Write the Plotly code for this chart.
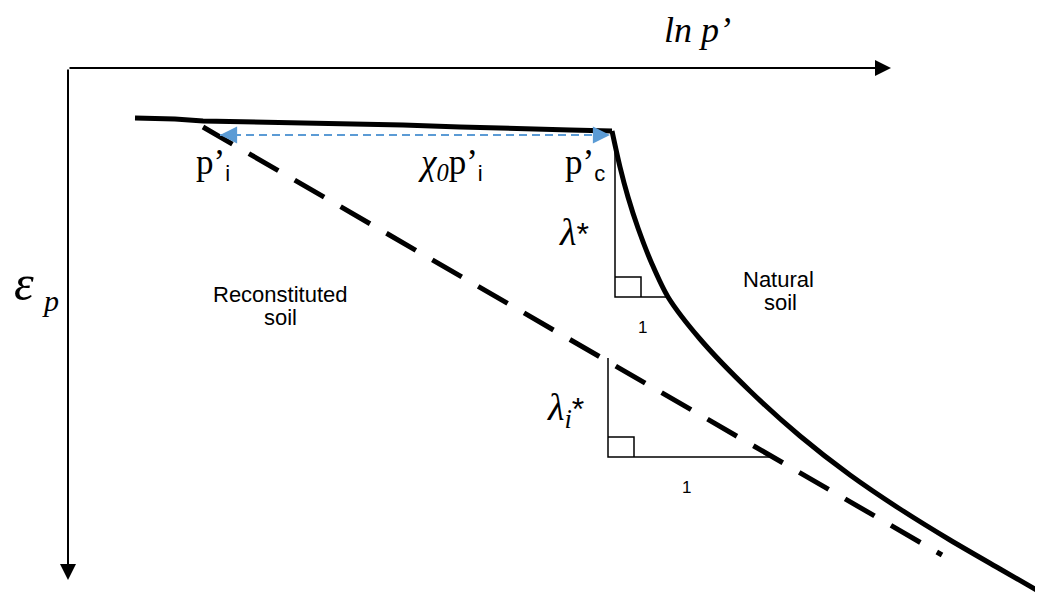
import plotly.graph_objects as go

# ---- schematic data (x: ln p' units, y: epsilon_p units, both arbitrary) ----
natural_flat_lnp = [135, 175, 203, 260, 330, 403, 460, 517, 570, 612]
natural_flat_eps = [118, 119, 121, 122, 123, 125, 127, 129, 130, 131]
natural_curve_lnp = [612, 620, 628, 638, 652, 668, 700, 750, 800, 850, 900, 950, 1000, 1040]
natural_curve_eps = [131, 167, 197, 228, 264, 297, 339, 391, 436, 475, 509, 540, 569, 592]

recon_lnp = [203, 942]
recon_eps = [127, 555]

chi_lnp = [220, 610]
chi_eps = [135, 135]

tri1_lnp = [615, 615, 668]
tri1_eps = [148, 297, 297]
sq1_lnp = [615, 641, 641]
sq1_eps = [277, 277, 297]

tri2_lnp = [608, 608, 772]
tri2_eps = [358, 457, 457]
sq2_lnp = [608, 634, 634]
sq2_eps = [437, 437, 457]

axis_origin = [68, 68]
x_axis_end = 891
y_axis_end = 580

SERIF = "Liberation Serif"
SANS = "Liberation Sans"
BLUE = "#5B9BD5"
PAGE_OFFSET = 8  # default body margin of the html page

fig = go.Figure()

fig.add_trace(go.Scatter(x=natural_flat_lnp, y=natural_flat_eps, mode="lines",
                         line=dict(color="black", width=5), hoverinfo="skip"))
fig.add_trace(go.Scatter(x=natural_curve_lnp, y=natural_curve_eps, mode="lines",
                         line=dict(color="black", width=5, shape="spline", smoothing=0.8),
                         hoverinfo="skip"))
fig.add_trace(go.Scatter(x=recon_lnp, y=recon_eps, mode="lines",
                         line=dict(color="black", width=5, dash="34px,19px"), hoverinfo="skip"))
fig.add_trace(go.Scatter(x=chi_lnp, y=chi_eps, mode="lines",
                         line=dict(color=BLUE, width=1.8, dash="8px,5px"), hoverinfo="skip"))
for xs, ys in [(tri1_lnp, tri1_eps), (sq1_lnp, sq1_eps), (tri2_lnp, tri2_eps), (sq2_lnp, sq2_eps)]:
    fig.add_trace(go.Scatter(x=xs, y=ys, mode="lines",
                             line=dict(color="black", width=1.5), hoverinfo="skip"))

ann = []
ann.append(dict(x=x_axis_end, y=axis_origin[1], ax=axis_origin[0], ay=axis_origin[1],
                xref="x", yref="y", axref="x", ayref="y", showarrow=True, text="",
                arrowhead=2, arrowsize=1.6, arrowwidth=2, arrowcolor="black"))
ann.append(dict(x=axis_origin[0], y=y_axis_end, ax=axis_origin[0], ay=axis_origin[1],
                xref="x", yref="y", axref="x", ayref="y", showarrow=True, text="",
                arrowhead=2, arrowsize=1.6, arrowwidth=2, arrowcolor="black"))
ann.append(dict(x=chi_lnp[0], y=chi_eps[0], ax=10, ay=0, xref="x", yref="y",
                showarrow=True, text="", arrowhead=2, arrowsize=1.9, arrowwidth=1.8,
                arrowcolor=BLUE))
ann.append(dict(x=chi_lnp[1], y=chi_eps[1], ax=-10, ay=0, xref="x", yref="y",
                showarrow=True, text="", arrowhead=2, arrowsize=1.9, arrowwidth=1.8,
                arrowcolor=BLUE))


def label(x, y, text, size, family, color="black", xanchor="center"):
    ann.append(dict(x=x, y=y, xref="x", yref="y", text=text, showarrow=False,
                    xanchor=xanchor, yanchor="middle",
                    font=dict(family=family, size=size, color=color)))


label(697, 30, "<i>ln p’</i>", 36, SERIF)
label(24, 283, "<i>ε</i>", 50, SERIF)
label(50, 300, "<i>p</i>", 30, SERIF)

sub_i = "<span style='font-family:Liberation Sans;font-size:22px'>i</span>"
sub_c = "<span style='font-family:Liberation Sans;font-size:22px'>c</span>"
label(194, 164, "p’<sub>" + sub_i + "</sub>", 35, SERIF, xanchor="left")
label(416, 164, "<i>χ</i><sub><i>0</i></sub>p’<sub>" + sub_i + "</sub>", 35, SERIF, xanchor="left")
label(563, 164, "p’<sub>" + sub_c + "</sub>", 35, SERIF, xanchor="left")

star = "<span style='font-family:Liberation Sans;font-size:32px'>*</span>"
label(557, 232, "<i>λ</i>" + star, 38, SERIF, xanchor="left")
label(545, 410, "<i>λ<sub>i</sub></i>" + star, 38, SERIF, xanchor="left")

label(280, 294, "Reconstituted", 22, SANS)
label(280, 317, "soil", 22, SANS)
label(778, 279, "Natural", 22, SANS)
label(780, 302, "soil", 22, SANS)
label(642, 327, "1", 17, SANS)
label(686, 487, "1", 17, SANS)

fig.update_layout(
    width=1043 - PAGE_OFFSET, height=598 - PAGE_OFFSET, margin=dict(l=0, r=0, t=0, b=0),
    paper_bgcolor="white", plot_bgcolor="white", showlegend=False,
    xaxis=dict(range=[PAGE_OFFSET, 1043], visible=False, fixedrange=True),
    yaxis=dict(range=[598, PAGE_OFFSET], visible=False, fixedrange=True),
    annotations=ann,
)

fig.write_html("out.html")
